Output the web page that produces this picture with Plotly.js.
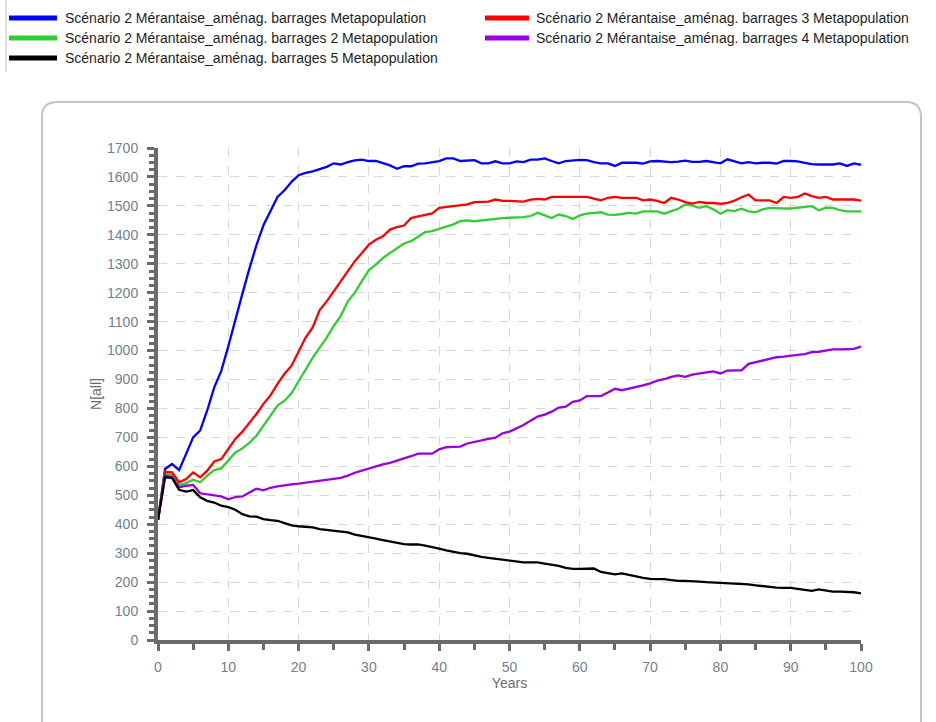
<!DOCTYPE html>
<html>
<head>
<meta charset="utf-8">
<script src="https://cdn.plot.ly/plotly-3.0.1.min.js"></script>
<style>
html,body{margin:0;padding:0;background:#fff;}
#chart{width:936px;height:722px;}
</style>
</head>
<body>
<div id="chart"></div>
<script>
const years = [0,1,2,3,4,5,6,7,8,9,10,11,12,13,14,15,16,17,18,19,20,21,22,23,24,25,26,27,28,29,30,31,32,33,34,35,36,37,38,39,40,41,42,43,44,45,46,47,48,49,50,51,52,53,54,55,56,57,58,59,60,61,62,63,64,65,66,67,68,69,70,71,72,73,74,75,76,77,78,79,80,81,82,83,84,85,86,87,88,89,90,91,92,93,94,95,96,97,98,99,100];

const seriesNames = [
  "Scénario 2 Mérantaise_aménag. barrages Metapopulation",
  "Scénario 2 Mérantaise_aménag. barrages 2 Metapopulation",
  "Scénario 2 Mérantaise_aménag. barrages 3 Metapopulation",
  "Scénario 2 Mérantaise_aménag. barrages 4 Metapopulation",
  "Scénario 2 Mérantaise_aménag. barrages 5 Metapopulation"
];

const metapop = [415,591,608,587,643,700,724,793,873,930,1015,1110,1196,1283,1364,1433,1485,1531,1554,1583,1606,1614,1619,1628,1635,1647,1643,1651,1657,1660,1655,1655,1647,1640,1628,1637,1637,1646,1647,1651,1655,1664,1664,1655,1656,1658,1647,1647,1654,1647,1647,1654,1651,1660,1660,1664,1655,1647,1655,1657,1659,1658,1651,1647,1647,1638,1649,1649,1649,1646,1654,1655,1652,1651,1653,1656,1652,1652,1655,1651,1647,1661,1655,1647,1651,1647,1649,1649,1646,1655,1655,1654,1649,1644,1643,1643,1643,1647,1638,1647,1642];

const metapop2 = [415,576,570,535,542,554,545,568,587,593,620,648,662,681,706,741,775,810,827,853,894,937,975,1010,1045,1085,1120,1170,1200,1240,1278,1297,1320,1337,1355,1370,1378,1393,1409,1413,1421,1430,1436,1447,1450,1447,1450,1453,1455,1458,1459,1460,1461,1465,1476,1467,1458,1470,1465,1455,1467,1473,1475,1478,1470,1469,1472,1476,1473,1481,1481,1481,1473,1482,1490,1505,1501,1493,1499,1488,1473,1485,1482,1490,1481,1478,1488,1493,1491,1491,1491,1493,1496,1499,1485,1494,1493,1485,1481,1481,1481];

const metapop3 = [415,581,579,545,556,579,562,585,617,625,660,695,720,749,781,816,845,885,920,948,995,1045,1080,1140,1170,1205,1240,1275,1309,1337,1366,1383,1395,1418,1427,1432,1458,1464,1469,1474,1493,1496,1499,1501,1505,1513,1513,1515,1522,1517,1517,1517,1515,1522,1524,1522,1531,1531,1531,1531,1531,1531,1525,1519,1528,1531,1528,1528,1528,1519,1522,1517,1510,1528,1522,1513,1508,1514,1510,1510,1507,1510,1518,1530,1539,1519,1519,1519,1510,1531,1528,1531,1543,1534,1528,1531,1522,1522,1522,1522,1518];

const metapop4 = [415,568,562,527,533,536,507,503,500,496,486,494,496,510,523,517,526,531,535,538,540,543,546,550,553,555,560,568,578,585,593,600,607,612,619,627,635,644,644,644,659,666,667,668,679,685,691,695,699,714,720,732,743,758,772,779,789,803,806,823,828,843,843,843,855,868,863,868,873,880,887,896,901,909,914,909,917,922,925,928,921,931,931,932,954,960,966,973,977,979,981,985,988,995,996,999,1004,1004,1004,1006,1014];

const metapop5 = [415,562,560,519,513,518,493,481,475,464,459,450,435,427,426,418,414,412,404,396,393,392,389,383,380,377,375,372,364,360,354,350,345,340,334,331,330,330,326,322,316,310,304,300,298,292,287,284,281,277,273,270,268,268,268,264,261,256,249,246,246,247,247,235,231,227,230,226,220,215,211,210,210,207,204,204,204,202,200,199,198,195,195,193,192,189,186,183,181,180,180,177,174,170,175,171,167,167,167,165,161];

const seriesValues = [metapop, metapop2, metapop3, metapop4, metapop5];
const seriesColors = ["#0000ff", "#33cc33", "#ff0000", "#9900dd", "#000000"];

const yTickVals = [0,100,200,300,400,500,600,700,800,900,1000,1100,1200,1300,1400,1500,1600,1700];
const xTickVals = [0,10,20,30,40,50,60,70,80,90,100];

// layout geometry (pixels)
const W = 936, H = 722, ML = 158, MR = 75, MT = 148, MB = 82;
const PW = W - ML - MR, PH = H - MT - MB;
const px = v => (v - ML) / PW;
const py = v => (H - MB - v) / PH;

const traces = seriesValues.map((vals, i) => ({
  type: 'scatter',
  mode: 'lines',
  x: years,
  y: vals,
  name: seriesNames[i],
  line: {color: seriesColors[i], width: 2.3},
  showlegend: false,
  hoverinfo: 'skip'
}));

// legend placement: [column, row] for each series
const legendSlots = [[0,0],[0,1],[1,0],[1,1],[0,2]];
const colSym = [[9,57],[485,529]];
const colText = [63, 534];
const rowY = [18, 38, 58];

const shapes = [];
const annotations = [];
legendSlots.forEach((slot, i) => {
  const [c, r] = slot;
  shapes.push({type:'line', xref:'paper', yref:'paper',
    x0: px(colSym[c][0]), x1: px(colSym[c][1]), y0: py(rowY[r]), y1: py(rowY[r]),
    line:{color: seriesColors[i], width: 5}});
  annotations.push({xref:'paper', yref:'paper', x: px(colText[c]), y: py(rowY[r]),
    xanchor:'left', yanchor:'middle', showarrow:false, text: seriesNames[i],
    font:{family:'Liberation Sans, Arial, sans-serif', size:14, color:'#1e1e1e'}});
});

// rounded frame around the chart
const bx0 = px(42), bx1 = px(921), by0 = py(102), by1 = py(740);
const rx = 15 / PW, ry = 15 / PH;
shapes.push({type:'path', xref:'paper', yref:'paper', layer:'below',
  path: `M ${bx0} ${by1} L ${bx0} ${by0 - ry} Q ${bx0} ${by0} ${bx0 + rx} ${by0} L ${bx1 - rx} ${by0} Q ${bx1} ${by0} ${bx1} ${by0 - ry} L ${bx1} ${by1}`,
  line:{color:'#c4c4c4', width:2}});
// thin left border line of the page
shapes.push({type:'line', xref:'paper', yref:'paper', x0: px(6), x1: px(6), y0: py(0), y1: py(72),
  line:{color:'#c0c0c0', width:1}});

const axisColor = '#6b6b6b';
const tickFont = {family:'Liberation Sans, Arial, sans-serif', size:14, color:'#75808f'};

const layout = {
  width: W, height: H,
  margin: {l: ML, r: MR, t: MT, b: MB, pad: 0},
  paper_bgcolor: '#ffffff',
  plot_bgcolor: '#ffffff',
  showlegend: false,
  xaxis: {
    range: [0, 100],
    tickvals: xTickVals,
    ticktext: xTickVals.map(String),
    ticks: 'outside', ticklen: 7, tickwidth: 3, tickcolor: axisColor,
    showline: true, linewidth: 4, linecolor: axisColor,
    showgrid: true, gridcolor: '#d6d6d6', gridwidth: 1, griddash: 'dash',
    zeroline: false,
    tickfont: tickFont,
    ticklabelstandoff: 4,
    minor: {dtick: 5, ticks: 'outside', ticklen: 6, tickwidth: 3, tickcolor: axisColor, showgrid: false},
    title: {text: 'Years', font: {family:'Liberation Sans, Arial, sans-serif', size:14, color:'#6b6b6b'}, standoff: 3}
  },
  yaxis: {
    range: [0, 1700],
    tickvals: yTickVals,
    ticktext: yTickVals.map(String),
    ticks: 'outside', ticklen: 7, tickwidth: 3, tickcolor: axisColor,
    showline: true, linewidth: 4, linecolor: axisColor,
    showgrid: true, gridcolor: '#d6d6d6', gridwidth: 1, griddash: 'dash',
    zeroline: false,
    tickfont: tickFont,
    ticklabelstandoff: 6,
    minor: {dtick: 25, ticks: 'outside', ticklen: 5, tickwidth: 3, tickcolor: axisColor, showgrid: false},
    title: {text: 'N[all]', font: {family:'Liberation Sans, Arial, sans-serif', size:14, color:'#6b6b6b'}, standoff: 3}
  },
  shapes: shapes,
  annotations: annotations
};

Plotly.newPlot('chart', traces, layout, {displayModeBar: false, staticPlot: true});
</script>
</body>
</html>
